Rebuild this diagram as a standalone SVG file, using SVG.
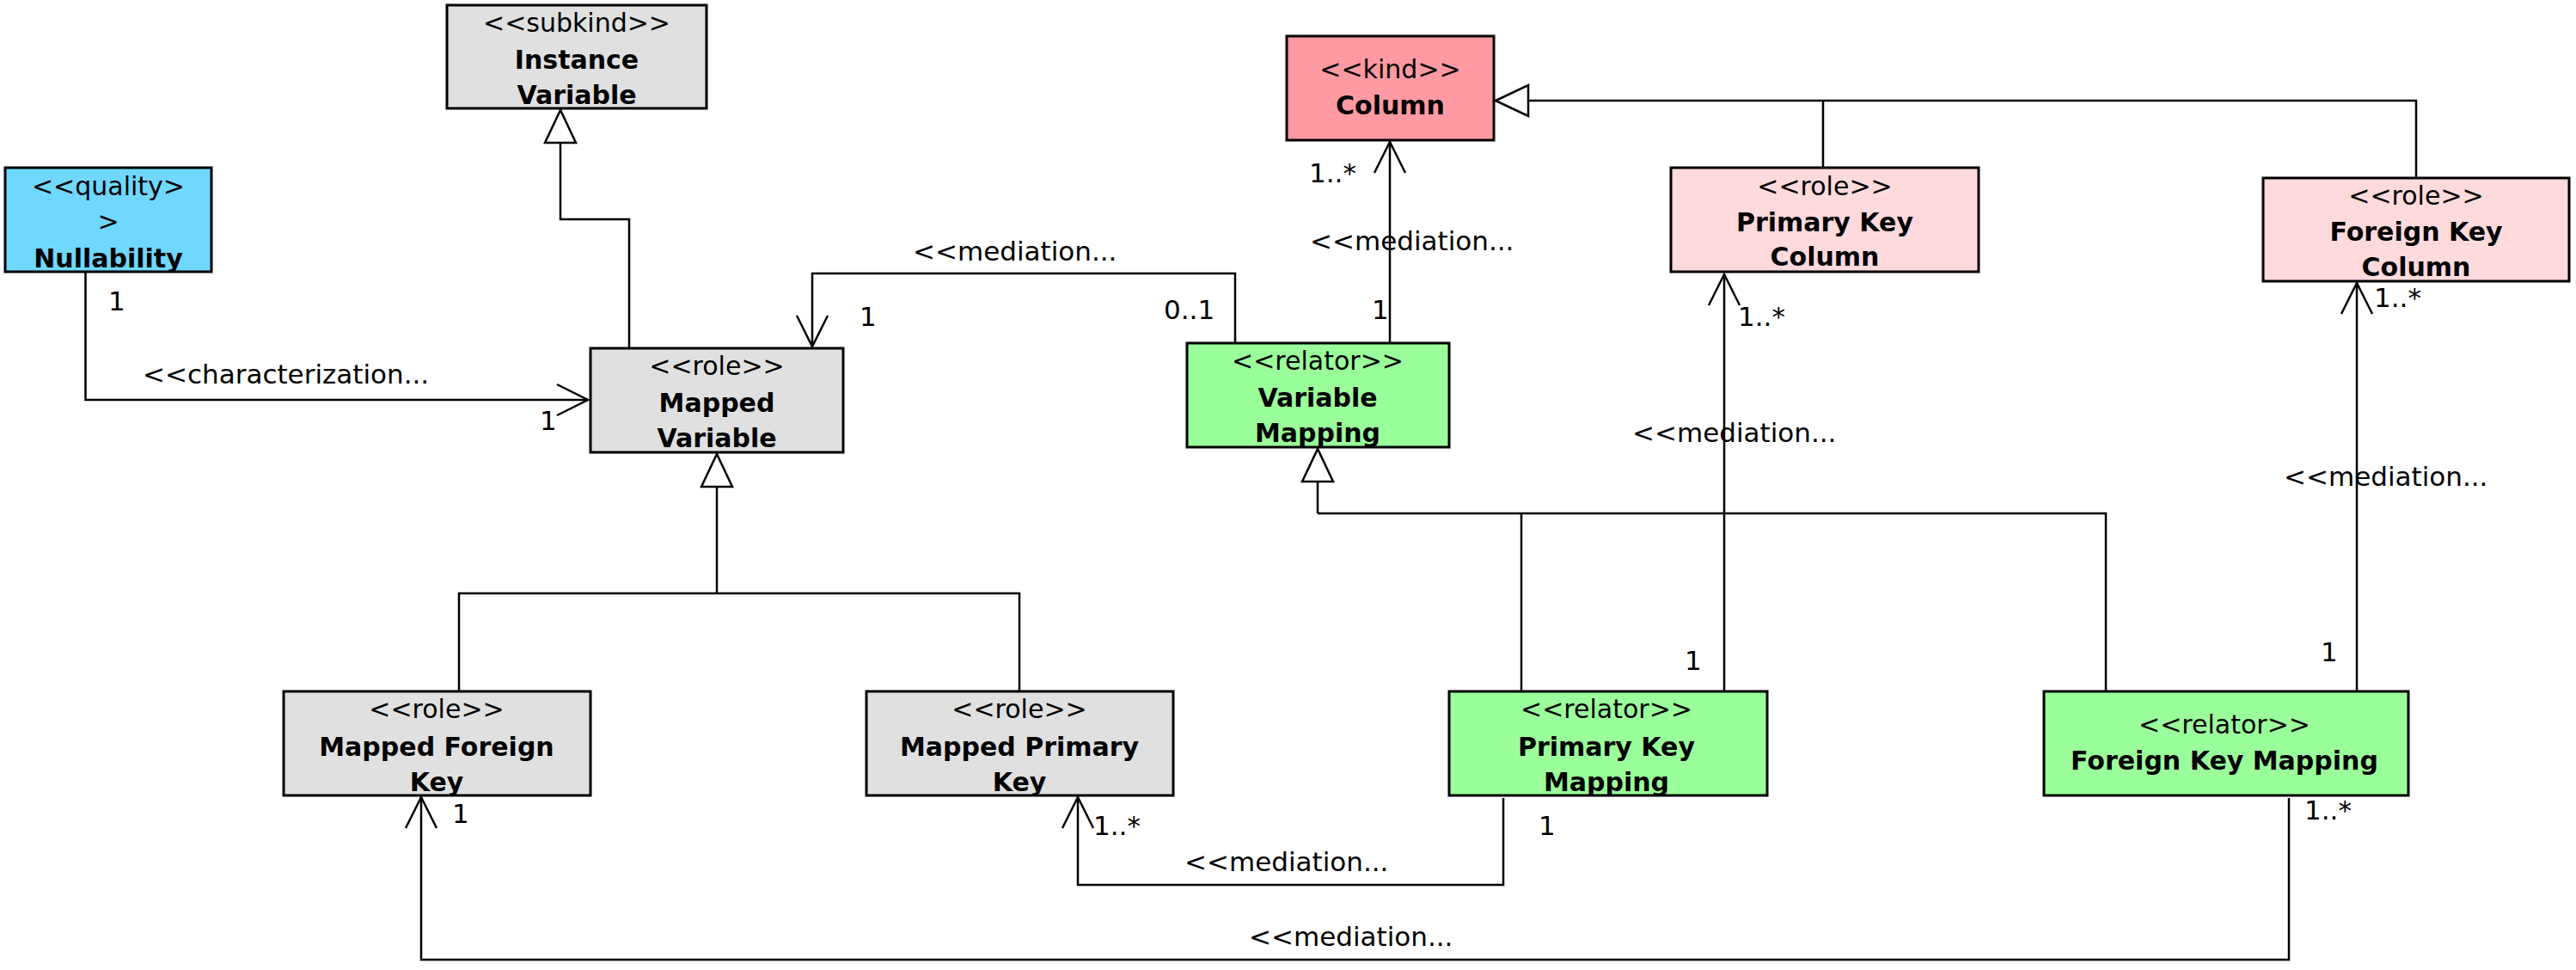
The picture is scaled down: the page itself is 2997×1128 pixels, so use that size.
<svg xmlns="http://www.w3.org/2000/svg" width="2997" height="1128" viewBox="0 0 2997 1128">
<style>
.box{stroke:#000;stroke-width:3}
.gray{fill:#E0E0E0}.blue{fill:#70D7FF}.kind{fill:#FF9AA2}.lpink{fill:#FFDADD}.green{fill:#9AFF9A}
.st{font-family:"DejaVu Sans",sans-serif;font-size:30px;fill:#000;text-anchor:middle}
.nm{font-family:"DejaVu Sans",sans-serif;font-size:30px;font-weight:bold;fill:#000;text-anchor:middle}
.lb{font-family:"DejaVu Sans",sans-serif;font-size:31px;fill:#000}
.ln{fill:none;stroke:#000;stroke-width:2.5}
.gen{marker-end:url(#tri)}
.med{marker-end:url(#open)}
</style>
<defs>
<marker id="open" viewBox="-40 -20 42 40" markerWidth="42" markerHeight="40" refX="0" refY="0" orient="auto" markerUnits="userSpaceOnUse" overflow="visible">
<path d="M-36,-18 L0,0 L-36,18" fill="none" stroke="#000" stroke-width="2.5"/>
</marker>
<marker id="tri" viewBox="-40 -20 42 40" markerWidth="42" markerHeight="40" refX="0" refY="0" orient="auto" markerUnits="userSpaceOnUse" overflow="visible">
<path d="M0,0 L-38,-18 L-38,18 Z" fill="#fff" stroke="#000" stroke-width="2.5"/>
</marker>
</defs>
<rect width="2997" height="1128" fill="#fff"/>

<g id="connectors">
<!-- characterization -->
<path class="ln med" d="M99.5,316 V465 H684"/>
<!-- generalizations -->
<path class="ln gen" d="M732,405 V255 H652 V128"/>
<path class="ln gen" d="M2811,207 V117 H1740"/>
<path class="ln" d="M2121,195 V117"/>
<path class="ln" d="M534,804 V690 H1186 V804"/>
<path class="ln gen" d="M834,690 V528"/>
<path class="ln" d="M1533,597 H2450 V804"/>
<path class="ln" d="M1770,597 V804"/>
<path class="ln gen" d="M1533,597 V522"/>
<!-- mediations -->
<path class="ln med" d="M1437,399 V318 H945 V403"/>
<path class="ln med" d="M1617,399 V165"/>
<path class="ln med" d="M2006,804 V319"/>
<path class="ln med" d="M2742,804 V329"/>
<path class="ln med" d="M1749,928 V1029 H1254 V927"/>
<path class="ln med" d="M2663,928 V1116 H490 V927"/>
<!-- labels -->
<text class="lb" x="166" y="446">&lt;&lt;characterization...</text>
<text class="lb" x="126" y="361">1</text>
<text class="lb" x="628" y="500">1</text>
<text class="lb" x="1062" y="303">&lt;&lt;mediation...</text>
<text class="lb" x="1354" y="371">0..1</text>
<text class="lb" x="1000" y="379">1</text>
<text class="lb" x="1523" y="212">1..*</text>
<text class="lb" x="1524" y="291">&lt;&lt;mediation...</text>
<text class="lb" x="1596" y="371">1</text>
<text class="lb" x="1899" y="514">&lt;&lt;mediation...</text>
<text class="lb" x="2022" y="379">1..*</text>
<text class="lb" x="1960" y="779">1</text>
<text class="lb" x="2657" y="565">&lt;&lt;mediation...</text>
<text class="lb" x="2762" y="357">1..*</text>
<text class="lb" x="2700" y="769">1</text>
<text class="lb" x="1378" y="1013">&lt;&lt;mediation...</text>
<text class="lb" x="1272" y="971">1..*</text>
<text class="lb" x="1790" y="971">1</text>
<text class="lb" x="1453" y="1100">&lt;&lt;mediation...</text>
<text class="lb" x="2681" y="953">1..*</text>
<text class="lb" x="526" y="957">1</text>
</g>

<g id="instance-variable">
<rect class="box gray" x="520" y="6" width="302" height="120"/>
<text class="st" x="671" y="37">&lt;&lt;subkind&gt;&gt;</text>
<text class="nm" x="671" y="80">Instance</text>
<text class="nm" x="671" y="121">Variable</text>
</g>

<g id="nullability">
<rect class="box blue" x="6" y="195" width="240" height="121"/>
<text class="st" x="126" y="227">&lt;&lt;quality&gt;</text>
<text class="st" x="126" y="268">&gt;</text>
<text class="nm" x="126" y="311">Nullability</text>
</g>

<g id="column">
<rect class="box kind" x="1497" y="42" width="241" height="121"/>
<text class="st" x="1617.5" y="91">&lt;&lt;kind&gt;&gt;</text>
<text class="nm" x="1617.5" y="133">Column</text>
</g>

<g id="mapped-variable">
<rect class="box gray" x="687" y="405" width="294" height="121"/>
<text class="st" x="834" y="436">&lt;&lt;role&gt;&gt;</text>
<text class="nm" x="834" y="479">Mapped</text>
<text class="nm" x="834" y="520">Variable</text>
</g>

<g id="variable-mapping">
<rect class="box green" x="1381" y="399" width="305" height="121"/>
<text class="st" x="1533" y="430">&lt;&lt;relator&gt;&gt;</text>
<text class="nm" x="1533" y="473">Variable</text>
<text class="nm" x="1533" y="514">Mapping</text>
</g>

<g id="primary-key-column">
<rect class="box lpink" x="1944" y="195" width="358" height="121"/>
<text class="st" x="2123" y="227">&lt;&lt;role&gt;&gt;</text>
<text class="nm" x="2123" y="269">Primary Key</text>
<text class="nm" x="2123" y="309">Column</text>
</g>

<g id="foreign-key-column">
<rect class="box lpink" x="2633" y="207" width="356" height="120"/>
<text class="st" x="2811" y="238">&lt;&lt;role&gt;&gt;</text>
<text class="nm" x="2811" y="280">Foreign Key</text>
<text class="nm" x="2811" y="321">Column</text>
</g>

<g id="mapped-foreign-key">
<rect class="box gray" x="330" y="804" width="357" height="121"/>
<text class="st" x="508" y="835">&lt;&lt;role&gt;&gt;</text>
<text class="nm" x="508" y="879">Mapped Foreign</text>
<text class="nm" x="508" y="920">Key</text>
</g>

<g id="mapped-primary-key">
<rect class="box gray" x="1008" y="804" width="357" height="121"/>
<text class="st" x="1186" y="835">&lt;&lt;role&gt;&gt;</text>
<text class="nm" x="1186" y="879">Mapped Primary</text>
<text class="nm" x="1186" y="920">Key</text>
</g>

<g id="primary-key-mapping">
<rect class="box green" x="1686" y="804" width="370" height="121"/>
<text class="st" x="1869" y="835">&lt;&lt;relator&gt;&gt;</text>
<text class="nm" x="1869" y="879">Primary Key</text>
<text class="nm" x="1869" y="920">Mapping</text>
</g>

<g id="foreign-key-mapping">
<rect class="box green" x="2378" y="804" width="424" height="121"/>
<text class="st" x="2588" y="853">&lt;&lt;relator&gt;&gt;</text>
<text class="nm" x="2588" y="895">Foreign Key Mapping</text>
</g>
</svg>
